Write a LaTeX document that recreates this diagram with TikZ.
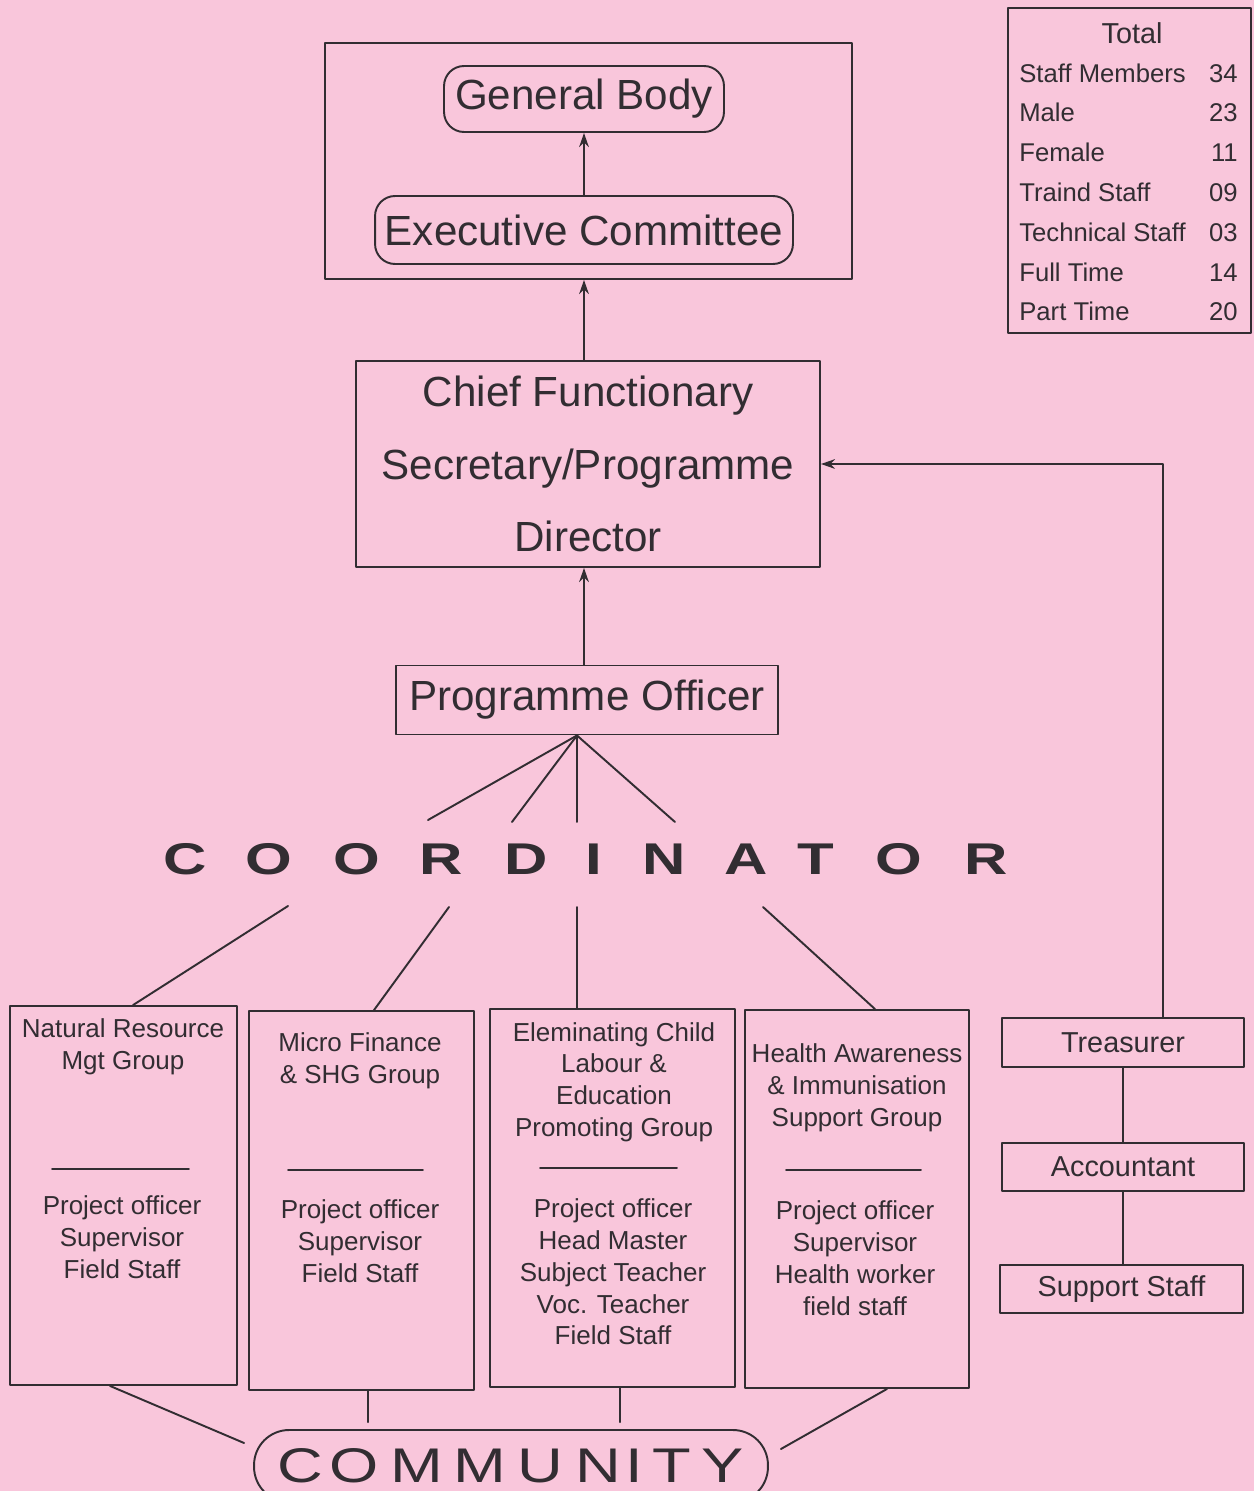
\documentclass[tikz,border=0pt]{standalone}
\usepackage{fontspec}
\setmainfont{Liberation Sans}
\usepackage{graphicx}
\usetikzlibrary{calc,arrows.meta}
\definecolor{paper}{RGB}{249,198,219}
\definecolor{ink}{RGB}{50,45,50}
\begin{document}
\begin{tikzpicture}[x=0.02cm,y=-0.02cm,>={Stealth[length=8pt,width=5.5pt]}, line join=round, line cap=round, color=ink,
    box/.style={draw, line width=1.1pt, inner sep=0pt},
    rbox/.style={box, rounded corners=0.4cm},
    big/.style={font=\fontsize{24}{41.5}\selectfont},
    grp/.style={font=\fontsize{14.8}{18.1}\selectfont, align=center},
    tbl/.style={font=\fontsize{14.6}{18}\selectfont, inner sep=0pt},
    fin/.style={font=\fontsize{16.4}{20}\selectfont},
    cordltr/.style={font=\fontsize{25.3}{30}\selectfont\bfseries, anchor=base},
    commltr/.style={font=\fontsize{27.7}{32}\selectfont, anchor=base},
    link/.style={line width=1.1pt}]
    \useasboundingbox (0,0) rectangle (1254,1491);
    \fill[paper] (0,0) rectangle (1254,1491);
    \clip (0,0) rectangle (1254,1491);
    % board
    \node[box, minimum width=10.54cm, minimum height=4.72cm] (top) at (588.5,161) {};
    \node[rbox, big, minimum width=5.6cm, minimum height=1.32cm] (gb) at (584,99) {General Body};
    \node[rbox, big, minimum width=8.36cm, minimum height=1.36cm] (exec) at (584,230) {Executive Committee};
    \node[box, big, align=center, minimum width=9.28cm, minimum height=4.12cm] (chief) at (588,464) {Chief Functionary\\Secretary/Programme\\Director};
    \node[box, big, minimum width=7.64cm, minimum height=1.38cm] (po) at (587,700) {Programme Officer};
    \draw[link,->] (exec.north) -- (gb.south);
    \draw[link,->] (chief.north -| exec.north) -- (top.south -| exec.north);
    \draw[link,->] (po.north -| exec.north) -- (chief.south -| exec.north);
    % coordinator
    \foreach \l/\x [count=\i] in {C/185,O/269,O/357,R/441,D/526,I/594,N/664,A/746,T/816,O/899,R/986}
        \node[cordltr] (cd\i) at (\x,874) {\scalebox{1.35}[1]{\l}};
    \foreach \x/\y [count=\i] in {428/820,512/822,577/822,675/822}
        \coordinate (up\i) at (\x,\y);
    \foreach \i in {1,...,4}
        \draw[link] ($(po.south)+(-10,0)$) -- (up\i);
    \foreach \x/\y [count=\i] in {288/906,449/907,577/907,763/907}
        \coordinate (dn\i) at (\x,\y);
    % groups
    \node[box, minimum width=4.54cm, minimum height=7.58cm] (nrm) at (123.5,1195.5) {};
    \node[box, minimum width=4.5cm, minimum height=7.58cm] (mf) at (361.5,1200.5) {};
    \node[box, minimum width=4.9cm, minimum height=7.56cm] (ec) at (612.5,1198) {};
    \node[box, minimum width=4.48cm, minimum height=7.56cm] (ha) at (857,1199) {};
    \node[grp] (nrm-t) at (123,1047) {Natural Resource\\Mgt Group};
    \node[grp] (mf-t) at (360,1061) {Micro Finance\\\& SHG Group};
    \node[grp] (ec-t) at (614,1082) {Eleminating Child\\Labour \&\\Education\\Promoting Group};
    \node[grp] (ha-t) at (857,1088) {Health Awareness\\\& Immunisation\\Support Group};
    \foreach \a/\b/\y in {52/189/1169,288/423/1170,540/677/1168,786/921/1170}
        \draw[link] (\a,\y) -- (\b,\y);
    \node[grp] (nrm-s) at (122,1237) {Project officer\\Supervisor\\Field Staff};
    \node[grp] (mf-s) at (360,1241) {Project officer\\Supervisor\\Field Staff};
    \node[grp] (ec-s) at (613,1272) {Project officer\\Head Master\\Subject Teacher\\Voc. Teacher\\Field Staff};
    \node[grp] (ha-s) at (855,1258) {Project officer\\Supervisor\\Health worker\\field staff};
    \draw[link] (dn1) -- ($(nrm.north)+(9.5,0)$);
    \draw[link] (dn2) -- ($(mf.north)+(12.5,0)$);
    \draw[link] (dn3) -- (dn3 |- ec.north);
    \draw[link] (dn4) -- ($(ha.north)+(18,0)$);
    % community
    \node[box, rounded corners=0.7cm, minimum width=10.28cm, minimum height=1.44cm] (comm) at (511,1466) {};
    \foreach \l/\x [count=\i] in {C/300,O/354,M/417,M/480,U/540,N/598,I/634,T/672,Y/723}
        \node[commltr] (cm\i) at (\x,1482) {\scalebox{1.3}[1]{\l}};
    \draw[link] ($(nrm.south)+(-13.5,0)$) -- ($(comm.west)+(-9,-23)$);
    \draw[link] ($(mf.south)+(6.5,0)$) -- ($(mf.south |- comm.north)+(6.5,-7)$);
    \draw[link] ($(ec.south)+(7.5,0)$) -- ($(ec.south |- comm.north)+(7.5,-7)$);
    \draw[link] ($(ha.south)+(30,0)$) -- ($(comm.east)+(12,-17)$);
    % accounts
    \node[box, fin, minimum width=4.84cm, minimum height=0.98cm] (treas) at (1123,1042.5) {Treasurer};
    \node[box, fin, minimum width=4.84cm, minimum height=0.96cm] (acct) at (1123,1167) {Accountant};
    \node[box, fin, minimum width=4.86cm, minimum height=0.96cm] (supp) at (1121.5,1289) {Support Staff};
    \draw[link] (treas.south) -- (acct.north);
    \draw[link] (acct.south) -- (acct.south |- supp.north);
    \draw[link,->] ($(treas.north)+(40,0)$) |- (chief.east);
    % staff totals
    \node[box, minimum width=4.86cm, minimum height=6.5cm] (tot) at (1129.5,170.5) {};
    \node[fin, anchor=base, inner sep=0pt] (tot-h) at (1132,43) {Total};
    \foreach \t/\v/\y [count=\i] in {Staff Members/34/82,Male/23/121,Female/11/161,Traind Staff/09/201,Technical Staff/03/241,Full Time/14/281,Part Time/20/320}
    {
        \node[tbl, anchor=base west] (row\i) at (1019,\y) {\t};
        \node[tbl, anchor=base east] (val\i) at (1238,\y) {\v};
    }
\end{tikzpicture}
\end{document}
